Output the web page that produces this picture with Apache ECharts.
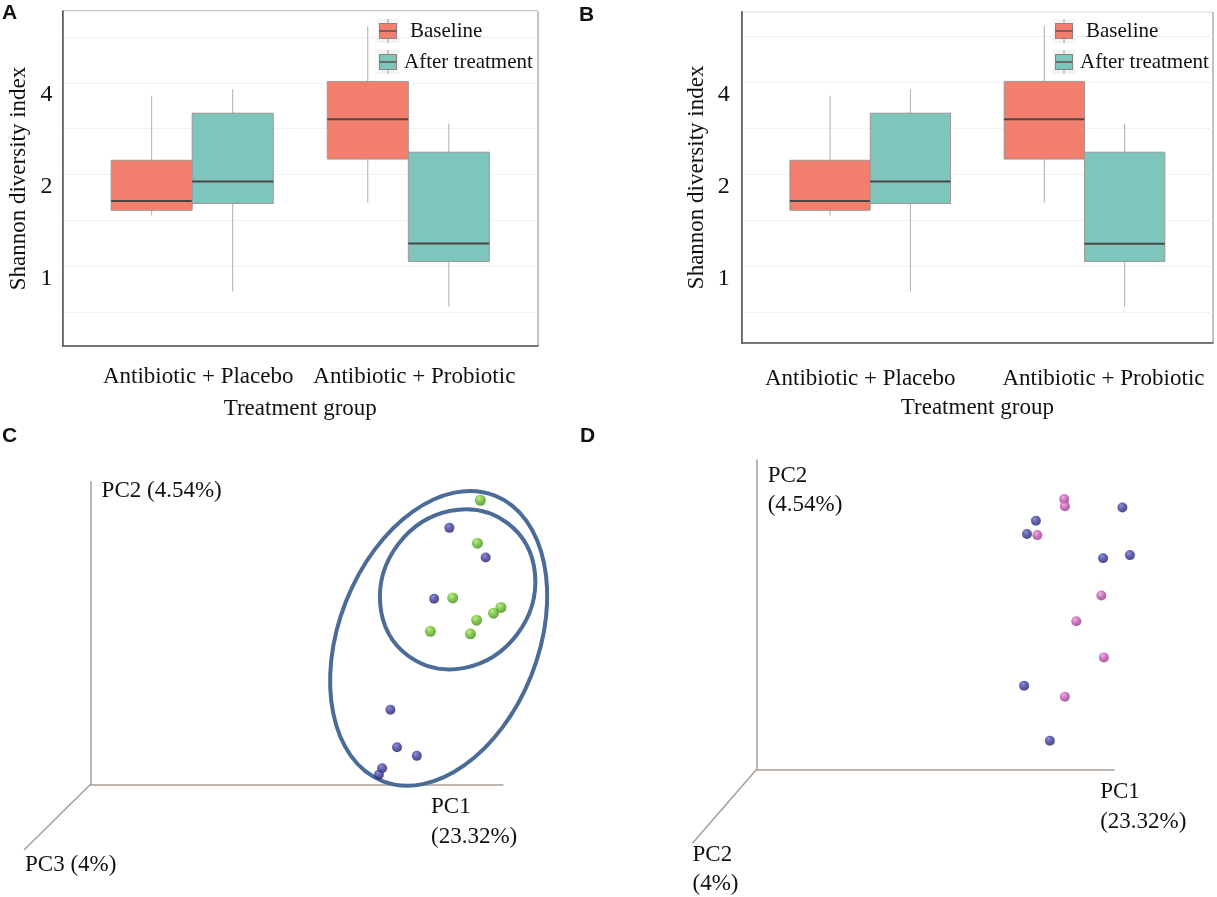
<!DOCTYPE html>
<html>
<head>
<meta charset="utf-8">
<script src="https://cdn.jsdelivr.net/npm/echarts@6/dist/echarts.min.js"></script>
<style>
  html, body { margin: 0; padding: 0; background: #fff; }
  #main { width: 1217px; height: 897px; }
</style>
</head>
<body>
<div id="main"></div>
<script>
// box plot data (Shannon index)
let groups = ['Antibiotic + Placebo', 'Antibiotic + Probiotic']
let seriesNames = ['Baseline', 'After treatment']
// [low whisker, Q1, median, Q3, high whisker]
let baselineStats = [[1.47, 1.53, 1.64, 2.23, 3.63], [1.62, 2.25, 3.04, 4.04, 6.13]]
let afterStats = [[0.83, 1.61, 1.90, 3.18, 3.81], [0.74, 1.04, 1.19, 2.37, 2.94]]
let yTickValues = [1, 2, 4]
let yRangeA = [0.55, 6.87]
let yRangeB = [0.563, 6.83]

// PCoA points, panel C
let pcoaCGreen = [[94.5, 68.9], [93.8, 58.5], [87.8, 45.2], [99.5, 42.9], [97.7, 41.5], [93.6, 39.8], [82.4, 37.1], [92.1, 36.5]]
let pcoaCBlue = [[87.0, 62.2], [95.8, 55.0], [83.3, 45.0], [72.7, 18.1], [74.3, 9.0], [79.1, 6.9], [70.7, 3.9], [69.9, 2.3]]
// [centre x, centre y, semi axis a, semi axis b, angle deg]
let ellipsesC = [[89.0, 47.3, 20.1, 18.1, 53], [84.4, 35.4, 37.2, 24.2, 68.5]]
// PCoA points, panel D
let pcoaDPink = [[86.0, 75.6], [86.2, 73.6], [78.5, 65.5], [96.4, 48.6], [89.4, 41.4], [97.1, 31.3], [86.2, 20.3]]
let pcoaDBlue = [[102.3, 73.2], [78.1, 69.5], [75.6, 65.8], [96.9, 59.0], [104.4, 59.9], [74.8, 23.4], [82.0, 8.0]]
// end of the third (depth) axis and its name
let depthAxisC = [[-16.15, -15.93]]
let depthAxisD = [[-17.96, -20.7]]
let depthNameC = 'PC3 (4%)'
let depthNameD = 'PC2\n(4%)'

const SERIF = 'Liberation Serif'
const BOX_HALF = 0.1875
const SALMON = '#f27f6e'
const TEAL = '#7ec5bc'
const AXIS_BROWN = '#aa9e96'

function renderBox(params, api) {
    let x = api.value(0)
    let halfW = api.size([BOX_HALF, 0])[0]
    let pt = i => api.coord([x, api.value(i)])
    let lo = pt(1), q1 = pt(2), md = pt(3), q3 = pt(4), hi = pt(5)
    return {
        type: 'group',
        children: [
            {type: 'line', shape: {x1: hi[0], y1: hi[1], x2: q3[0], y2: q3[1]}, style: {stroke: '#b3aca8', lineWidth: 1}},
            {type: 'line', shape: {x1: q1[0], y1: q1[1], x2: lo[0], y2: lo[1]}, style: {stroke: '#b3aca8', lineWidth: 1}},
            {type: 'rect', shape: {x: q3[0] - halfW, y: q3[1], width: halfW * 2, height: q1[1] - q3[1]},
                style: {fill: api.visual('color'), stroke: '#9c9896', lineWidth: 1}},
            {type: 'line', shape: {x1: md[0] - halfW, y1: md[1], x2: md[0] + halfW, y2: md[1]}, style: {stroke: '#4a4646', lineWidth: 2}}
        ]
    }
}

function renderEllipse(params, api) {
    let c = api.coord([api.value(0), api.value(1)])
    let s = api.size([api.value(2), api.value(3)])
    return {
        type: 'ellipse',
        x: c[0], y: c[1],
        rotation: api.value(4) * Math.PI / 180,
        shape: {cx: 0, cy: 0, rx: s[0], ry: s[1]},
        style: {fill: null, stroke: '#4b6b99', lineWidth: 4}
    }
}

// third axis drawn from the origin, name under its end
function depthRenderer(text, dx, dy) {
    return function (params, api) {
        let o = api.coord([0, 0])
        let e = api.coord([api.value(0), api.value(1)])
        return {
            type: 'group',
            children: [
                {type: 'line', shape: {x1: o[0], y1: o[1], x2: e[0], y2: e[1]}, style: {stroke: AXIS_BROWN, lineWidth: 1.5}},
                {type: 'text', x: e[0] + dx, y: e[1] + dy,
                    style: {text: text, fontFamily: SERIF, fontSize: 23, fill: '#111', align: 'left', verticalAlign: 'top', lineHeight: 29}}
            ]
        }
    }
}

function boxData(stats, shift) {
    return stats.map((s, i) => [i + 1 + shift].concat(s.map(v => Math.log2(v))))
}

function sphere(light, base, dark) {
    return {type: 'radial', x: 0.38, y: 0.32, r: 0.72,
        colorStops: [{offset: 0, color: light}, {offset: 0.45, color: base}, {offset: 1, color: dark}]}
}

// small box glyph for the legend keys
function keyIcon(fill) {
    let svg = "<svg xmlns='http://www.w3.org/2000/svg' width='22' height='24'>" +
        "<rect width='22' height='24' fill='#f3f3f3'/>" +
        "<line x1='11' y1='0' x2='11' y2='5' stroke='#a09a98'/>" +
        "<line x1='11' y1='19' x2='11' y2='24' stroke='#a09a98'/>" +
        "<rect x='2.5' y='4.5' width='17' height='15' fill='" + fill + "' stroke='#8a8684'/>" +
        "<line x1='2.5' y1='12' x2='19.5' y2='12' stroke='#5a5250' stroke-width='1.5'/></svg>"
    return 'image://data:image/svg+xml;charset=utf-8,' + encodeURIComponent(svg)
}

function catLabelFn(shifts) {
    return function (v) {
        let k = Math.round(v)
        if (Math.abs(v - k) > 1e-6 || k < 1 || k > groups.length) return ''
        let s = shifts[k - 1]
        return s >= 0 ? `{r${k}|${groups[k - 1]}}` : `{l${k}|${groups[k - 1]}}`
    }
}
function catRich(shifts) {
    let rich = {}
    shifts.forEach((s, i) => {
        let base = {fontFamily: SERIF, fontSize: 23, color: '#111'}
        rich['r' + (i + 1)] = Object.assign({padding: [0, 0, 0, 2 * Math.max(s, 0)]}, base)
        rich['l' + (i + 1)] = Object.assign({padding: [0, 2 * Math.max(-s, 0), 0, 0]}, base)
    })
    return rich
}
function logLabel(v) {
    let k = Math.round(v)
    if (Math.abs(v - k) > 1e-6) return ''
    let val = Math.pow(2, k)
    return yTickValues.indexOf(val) >= 0 ? String(val) : ''
}

function boxXAxis(gridIndex, labelMargin, nameGap, shifts) {
    return {
        gridIndex: gridIndex, type: 'value', min: 0.4, max: 2.6,
        axisLine: {show: true, onZero: false, lineStyle: {color: '#555', width: 1.5}},
        axisTick: {show: false}, splitLine: {show: false},
        axisLabel: {formatter: catLabelFn(shifts), rich: catRich(shifts), fontFamily: SERIF, fontSize: 23, color: '#111', margin: labelMargin},
        name: 'Treatment group', nameLocation: 'middle', nameGap: nameGap,
        nameTextStyle: {fontFamily: SERIF, fontSize: 23, color: '#111'}
    }
}
function boxYAxis(gridIndex, range, nameGap, labelMargin) {
    return {
        gridIndex: gridIndex, type: 'value',
        min: Math.log2(range[0]), max: Math.log2(range[1]), splitNumber: 7,
        axisLine: {show: true, onZero: false, lineStyle: {color: '#555', width: 1.5}},
        axisTick: {show: false},
        splitLine: {show: true, lineStyle: {color: '#f2f2f2', width: 1}},
        axisLabel: {formatter: logLabel, fontFamily: SERIF, fontSize: 24, color: '#111',
            margin: labelMargin, verticalAlign: 'top', showMinLabel: false, showMaxLabel: false},
        name: 'Shannon diversity index', nameLocation: 'middle', nameGap: nameGap,
        nameTextStyle: {fontFamily: SERIF, fontSize: 23, color: '#111'}
    }
}
function pcXAxis(gridIndex, max, name, nameGap) {
    return {
        gridIndex: gridIndex, type: 'value', min: 0, max: max,
        axisLine: {show: true, lineStyle: {color: AXIS_BROWN, width: 1.5}},
        axisTick: {show: false}, axisLabel: {show: false}, splitLine: {show: false},
        name: name, nameLocation: 'end', nameGap: nameGap,
        nameTextStyle: {fontFamily: SERIF, fontSize: 23, color: '#111', align: 'left', verticalAlign: 'top',
            lineHeight: 30, padding: [8, 0, 0, 0]}
    }
}
function pcYAxis(gridIndex, max, name, nameGap, lineHeight) {
    return {
        gridIndex: gridIndex, type: 'value', min: 0, max: max,
        axisLine: {show: true, lineStyle: {color: AXIS_BROWN, width: 1.5}},
        axisTick: {show: false}, axisLabel: {show: false}, splitLine: {show: false},
        name: name, nameLocation: 'end', nameGap: nameGap,
        nameTextStyle: {fontFamily: SERIF, fontSize: 23, color: '#111', align: 'left', verticalAlign: 'top',
            lineHeight: lineHeight, padding: [0, 0, 0, 11]}
    }
}

function legendFor(left) {
    return {
        left: left, top: 19, padding: 0, orient: 'vertical', itemWidth: 22, itemHeight: 24, itemGap: 7,
        selectedMode: false,
        data: [
            {name: seriesNames[0], icon: keyIcon(SALMON), textStyle: {padding: [5, 0, 0, 6]}},
            {name: seriesNames[1], icon: keyIcon(TEAL)}
        ],
        textStyle: {fontFamily: SERIF, fontSize: 21, color: '#111'}
    }
}

let chart = echarts.init(document.getElementById('main'))
let panelTitle = (text, left, top) => ({text: text, left: left, top: top, padding: 0,
    textStyle: {fontFamily: 'Liberation Sans', fontWeight: 'bold', fontSize: 21, color: '#111'}})

chart.setOption({
    animation: false,
    backgroundColor: '#fff',
    title: [panelTitle('A', 2, 3), panelTitle('B', 579, 5), panelTitle('C', 2, 426), panelTitle('D', 580, 426)],
    legend: [legendFor(377), legendFor(1053)],
    grid: [
        {left: 62.5, top: 11, width: 475.5, height: 335, show: true, borderColor: '#858585', borderWidth: 1, backgroundColor: '#fff'},
        {left: 741.7, top: 11.7, width: 471.3, height: 331.3, show: true, borderColor: '#858585', borderWidth: 1, backgroundColor: '#fff'},
        {left: 90.6, top: 481.7, width: 412.4, height: 302.6},
        {left: 756.7, top: 460, width: 357.5, height: 309.3}
    ],
    xAxis: [
        boxXAxis(0, 19, 51, [6, 6]),
        boxXAxis(1, 24, 53, [-10, 19]),
        pcXAxis(2, 100, 'PC1\n(23.32%)', -72),
        pcXAxis(3, 100, 'PC1\n(23.32%)', -14)
    ],
    yAxis: [
        boxYAxis(0, yRangeA, 32, 10),
        boxYAxis(1, yRangeB, 33, 12),
        pcYAxis(2, 73.4, 'PC2 (4.54%)', 2, 23),
        pcYAxis(3, 86.5, 'PC2\n(4.54%)', -1.5, 29)
    ],
    series: [
        {type: 'custom', name: seriesNames[0], xAxisIndex: 0, yAxisIndex: 0, renderItem: renderBox,
            itemStyle: {color: SALMON}, encode: {x: 0, y: [1, 2, 3, 4, 5]}, data: boxData(baselineStats, -BOX_HALF)},
        {type: 'custom', name: seriesNames[1], xAxisIndex: 0, yAxisIndex: 0, renderItem: renderBox,
            itemStyle: {color: TEAL}, encode: {x: 0, y: [1, 2, 3, 4, 5]}, data: boxData(afterStats, BOX_HALF)},
        {type: 'custom', name: seriesNames[0], xAxisIndex: 1, yAxisIndex: 1, renderItem: renderBox,
            itemStyle: {color: SALMON}, encode: {x: 0, y: [1, 2, 3, 4, 5]}, data: boxData(baselineStats, -BOX_HALF)},
        {type: 'custom', name: seriesNames[1], xAxisIndex: 1, yAxisIndex: 1, renderItem: renderBox,
            itemStyle: {color: TEAL}, encode: {x: 0, y: [1, 2, 3, 4, 5]}, data: boxData(afterStats, BOX_HALF)},

        {type: 'custom', name: 'PC3 axis', xAxisIndex: 2, yAxisIndex: 2, silent: true, clip: false,
            renderItem: depthRenderer(depthNameC, 1, 0.5), encode: {x: 0, y: 1}, data: depthAxisC},
        {type: 'custom', name: 'PC2 depth axis', xAxisIndex: 3, yAxisIndex: 3, silent: true, clip: false,
            renderItem: depthRenderer(depthNameD, 0, -3), encode: {x: 0, y: 1}, data: depthAxisD},

        {type: 'custom', name: 'ellipse', xAxisIndex: 2, yAxisIndex: 2, renderItem: renderEllipse, silent: true,
            encode: {x: 0, y: 1}, data: ellipsesC, z: 3},
        {type: 'scatter', name: 'C group 1', xAxisIndex: 2, yAxisIndex: 2, data: pcoaCGreen, symbolSize: 11, clip: false,
            silent: true, itemStyle: {color: sphere('#aee676', '#68bf28', '#3f8516')}, z: 4},
        {type: 'scatter', name: 'C group 2', xAxisIndex: 2, yAxisIndex: 2, data: pcoaCBlue, symbolSize: 10, clip: false,
            silent: true, itemStyle: {color: sphere('#7474cc', '#3a3a9c', '#20205e')}, z: 4},
        {type: 'scatter', name: 'D group 1', xAxisIndex: 3, yAxisIndex: 3, data: pcoaDPink, symbolSize: 10, clip: false,
            silent: true, itemStyle: {color: sphere('#ec9ee0', '#c457b4', '#8c3282')}, z: 4},
        {type: 'scatter', name: 'D group 2', xAxisIndex: 3, yAxisIndex: 3, data: pcoaDBlue, symbolSize: 10, clip: false,
            silent: true, itemStyle: {color: sphere('#7474cc', '#3a3a9c', '#20205e')}, z: 4}
    ]
})
</script>
</body>
</html>
